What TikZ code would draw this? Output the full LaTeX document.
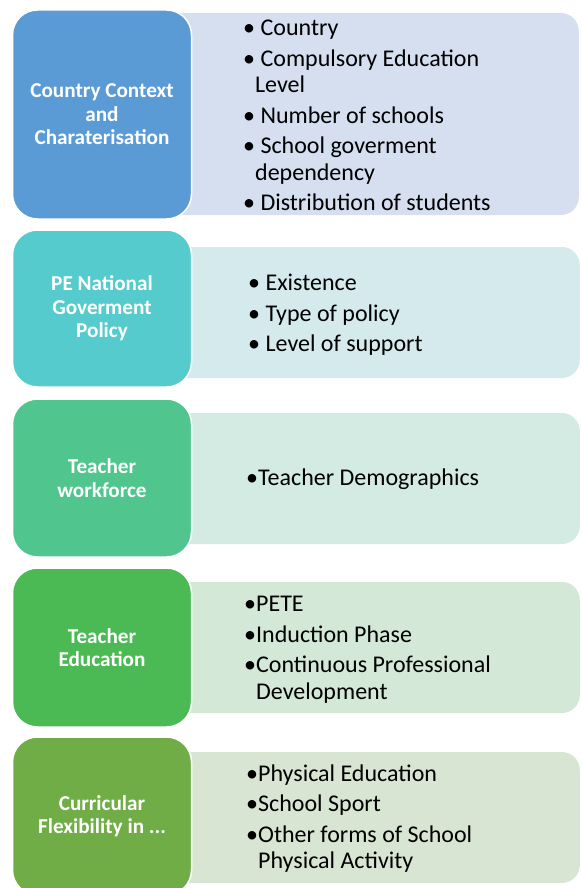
\documentclass[tikz,border=0pt]{standalone}
\usepackage{fontspec}
\setmainfont{Carlito}
\usepackage{xcolor}
\definecolor{ctxblue}{RGB}{91,155,213}
\definecolor{ctxpale}{RGB}{213,223,239}
\definecolor{poltea}{RGB}{85,203,205}
\definecolor{polpale}{RGB}{212,234,237}
\definecolor{wfgreen}{RGB}{80,197,141}
\definecolor{wfpale}{RGB}{211,235,227}
\definecolor{edgreen}{RGB}{75,186,84}
\definecolor{edpale}{RGB}{211,232,214}
\definecolor{curgreen}{RGB}{112,173,71}
\definecolor{curpale}{RGB}{217,229,211}
\usepackage{tikz}

\begin{document}
\begin{tikzpicture}[x=1pt,y=-1pt]
	\tikzstyle{lbox}=[draw=white,line width=1.5pt,rounded corners=25pt,minimum width=179pt,minimum height=158pt,inner sep=0pt,align=center,text=white,font=\fontsize{21.2}{23.5}\selectfont\bfseries];
	\tikzstyle{rbox}=[rounded corners=18pt,minimum width=430pt,minimum height=131pt,inner sep=0pt,anchor=east];
	\tikzstyle{items}=[anchor=west,inner sep=0pt,align=left,font=\fontsize{24}{26.5}\selectfont];
	\useasboundingbox (0,0) rectangle (581,888);
	%% pale boxes behind, their left ends hidden by the coloured ones
	\node[rbox,fill=ctxpale,minimum height=202pt] (ctxr) at (579,114) {};
	\node[rbox,fill=polpale] (polr) at (580,312.5) {};
	\node[rbox,fill=wfpale] (wfr) at (580,478.5) {};
	\node[rbox,fill=edpale] (edr) at (580,647.5) {};
	\node[rbox,fill=curpale] (curr) at (580,817.5) {};
	%% coloured headings
	\node[lbox,fill=ctxblue,minimum height=209pt] (ctx) at (102,114.5) {Country Context\\and\\Charaterisation};
	\node[lbox,fill=poltea,minimum height=157pt] (pol) at (102,308.5) {PE National\\Goverment\\Policy};
	\node[lbox,fill=wfgreen] (wf) at (102,478) {Teacher\\workforce};
	\node[lbox,fill=edgreen,minimum height=159pt] (ed) at (102,647.5) {Teacher\\Education};
	\node[lbox,fill=curgreen] (cur) at (102,816) {Curricular\\Flexibility in ...};
	%% bullet lists
	\node[items] (ctxt) at (243,115.5) {• Country\\[4pt]
		• Compulsory Education\\\phantom{•}Level\\[4pt]
		• Number of schools\\[4pt]
		• School goverment\\\phantom{•}dependency\\[4pt]
		• Distribution of students};
	\node[items] (polt) at (248,315) {• Existence\\[4pt]
		• Type of policy\\[4pt]
		• Level of support};
	\node[items] (wft) at (246,479) {•Teacher Demographics};
	\node[items] (edt) at (244,649.5) {•PETE\\[4pt]
		•Induction Phase\\[4pt]
		•Continuous Professional\\\phantom{•}Development};
	\node[items] (curt) at (246,818.5) {•Physical Education\\[4pt]
		•School Sport\\[4pt]
		•Other forms of School\\\phantom{•}Physical Activity};
\end{tikzpicture}
\end{document}
